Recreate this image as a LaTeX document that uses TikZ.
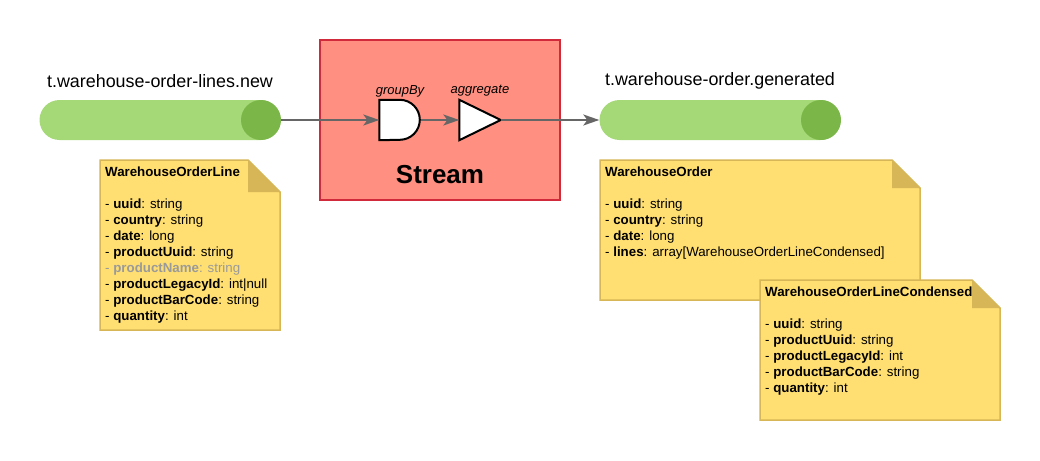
\documentclass[tikz,border=0pt]{standalone}
\usepackage{fontspec}
\setmainfont{Liberation Sans}
\usetikzlibrary{arrows.meta}
\definecolor{topiclight}{HTML}{A5D877}
\definecolor{topicdark}{HTML}{7AB648}
\definecolor{streamfill}{HTML}{FF8F80}
\definecolor{streamline}{HTML}{D02A3B}
\definecolor{notefill}{HTML}{FFDF71}
\definecolor{noteline}{HTML}{D6B656}
\definecolor{flowgray}{HTML}{666666}
\definecolor{fadedtext}{HTML}{9A9A9A}

\begin{document}
\begin{tikzpicture}[x=1pt, y=-1pt,
      topic/.style={fill=topiclight, rounded corners=20pt, minimum width=241pt, minimum height=40pt, inner sep=0pt},
      topicend/.style={circle, fill=topicdark, minimum size=40pt, inner sep=0pt},
      topiclabel/.style={font=\fontsize{17.9}{21}\selectfont, inner sep=0pt},
      stream/.style={draw=streamline, fill=streamfill, line width=1.5pt, minimum width=240pt, minimum height=160pt, inner sep=0pt},
      opbox/.style={minimum width=41pt, minimum height=40pt, inner sep=0pt},
      opshape/.style={draw=black, fill=white, line width=2pt, line join=miter},
      oplabel/.style={font=\fontsize{13}{15}\selectfont\itshape, inner sep=0pt},
      flow/.style={draw=flowgray, line width=1.5pt, -{Stealth[length=16pt, width=11pt, inset=4pt]}},
      notebox/.style={draw=noteline, fill=notefill, line width=1.5pt},
      notetext/.style={font=\fontsize{13.3}{16}\selectfont, align=left, inner sep=0pt, anchor=north west}]
    \useasboundingbox (0,0) rectangle (1040,460);

    \node[topic] (ltopic) at (160,120) {};
    \node[topicend] (ltopicend) at (261,120) {};
    \node[topiclabel] (ltopiclabel) at (160,81) {t.warehouse-order-lines.new};
    \node[topic] (rtopic) at (720,120) {};
    \node[topicend] (rtopicend) at (821,120) {};
    \node[topiclabel] (rtopiclabel) at (720,81) {t.warehouse-order.generated};

    \node[stream] (stream) at (440,120) {};
    \node[font=\fontsize{26}{30}\selectfont\bfseries, inner sep=0pt] (streamlabel) at (440,175) {Stream};

    \node[opbox] (groupby) at (400,120) {};
    \draw[opshape] (groupby.north west) -- ++(20.5,0) arc[start angle=90, end angle=-90, radius=20pt] -- (groupby.south west) -- cycle;
    \node[oplabel] (groupbylabel) at (400,91) {groupBy};
    \node[opbox] (aggregate) at (480,120) {};
    \draw[opshape] (aggregate.north west) -- (aggregate.east) -- (aggregate.south west) -- cycle;
    \node[oplabel] (aggregatelabel) at (480,91) {aggregate};

    \draw[flow] (ltopicend.east) -- (groupby.west);
    \draw[flow] (groupby.east) -- (aggregate.west);
    \draw[flow] (aggregate.east) -- (rtopic.west);

    \draw[notebox] (100,160) -- (248,160) -- (280,192) -- (280,330) -- (100,330) -- cycle;
    \fill[noteline] (248,160) -- (280,192) -- (248,192) -- cycle;
    \node[notetext] (linenote) at (105,167) {\textbf{WarehouseOrderLine}\\[16pt]
      - \textbf{uuid}: string\\
      - \textbf{country}: string\\
      - \textbf{date}: long\\
      - \textbf{productUuid}: string\\
      {\color{fadedtext}- \textbf{productName}: string}\\
      - \textbf{productLegacyId}: int|null\\
      - \textbf{productBarCode}: string\\
      - \textbf{quantity}: int};

    \draw[notebox] (600,160) -- (892,160) -- (920,188) -- (920,300) -- (600,300) -- cycle;
    \fill[noteline] (892,160) -- (920,188) -- (892,188) -- cycle;
    \node[notetext] (ordernote) at (605,167) {\textbf{WarehouseOrder}\\[16pt]
      - \textbf{uuid}: string\\
      - \textbf{country}: string\\
      - \textbf{date}: long\\
      - \textbf{lines}: array[WarehouseOrderLineCondensed]};

    \draw[notebox] (760,280) -- (972,280) -- (1000,308) -- (1000,420) -- (760,420) -- cycle;
    \fill[noteline] (972,280) -- (1000,308) -- (972,308) -- cycle;
    \node[notetext] (condensednote) at (765,287) {\textbf{WarehouseOrderLineCondensed}\\[16pt]
      - \textbf{uuid}: string\\
      - \textbf{productUuid}: string\\
      - \textbf{productLegacyId}: int\\
      - \textbf{productBarCode}: string\\
      - \textbf{quantity}: int};
  \end{tikzpicture}
\end{document}
